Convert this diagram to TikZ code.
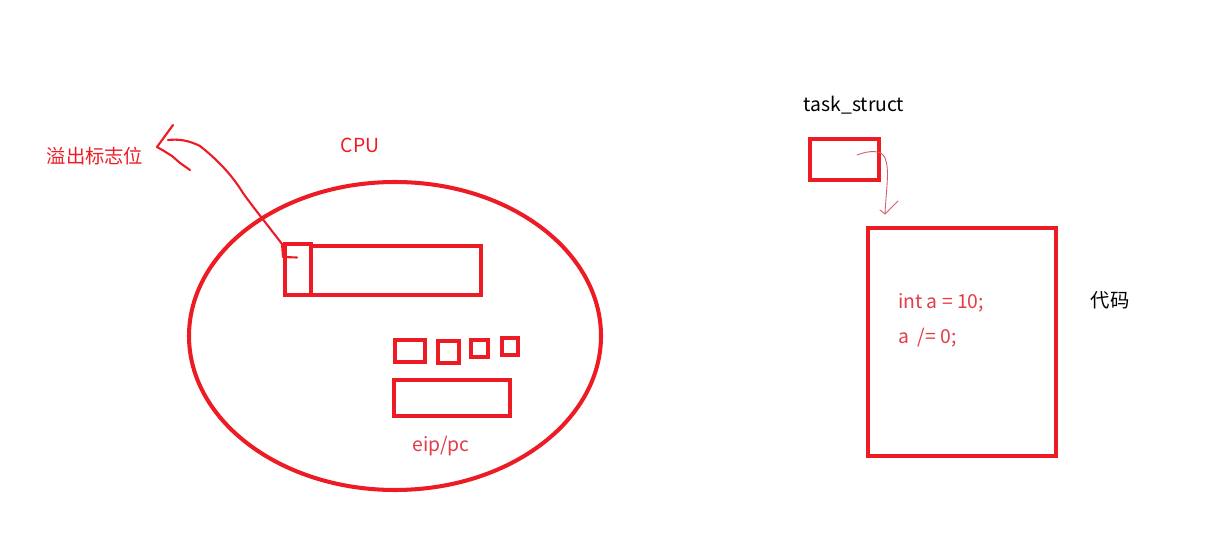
\documentclass[tikz,border=0pt]{standalone}
\usepackage{fontspec}
\setmainfont{Noto Sans CJK SC}
\usetikzlibrary{positioning, calc, shapes.geometric}
\definecolor{paintred}{RGB}{237, 28, 36}
\definecolor{codered}{RGB}{226, 60, 72}
\definecolor{penred}{RGB}{214, 90, 100}

\begin{document}
\begin{tikzpicture}[x=0.02cm, y=-0.02cm,
    box/.style={draw=paintred, line width=2.3pt, inner sep=0pt},
    lbl/.style={font=\fontsize{11}{13}\selectfont, inner sep=1pt},
    hand/.style={draw=paintred, line width=1.2pt, line cap=round, line join=round},
    thin/.style={draw=penred, line width=0.5pt, line cap=round}]
  \useasboundingbox (0,0) rectangle (1207,553);

  % cpu
  \node[draw=paintred, line width=2.3pt, ellipse, minimum width=412*0.02cm, minimum height=308*0.02cm] (cpu) at (395,336) {};
  \node[lbl, text=paintred] (cpulbl) at (360,145) {CPU};
  \node[box, minimum width=170*0.02cm, minimum height=49*0.02cm] (reg) at (396,270.5) {};
  \node[box, minimum width=26*0.02cm, minimum height=51*0.02cm] (flag) at (298,269.5) {};
  \node[box, minimum width=30*0.02cm, minimum height=22*0.02cm] (r1) at (410,351) {};
  \node[box, minimum width=21*0.02cm, minimum height=22*0.02cm] (r2) at (448.5,352) {};
  \node[box, minimum width=17*0.02cm, minimum height=17*0.02cm] (r3) at (479.5,348.5) {};
  \node[box, minimum width=16*0.02cm, minimum height=17*0.02cm] (r4) at (510,346.5) {};
  \node[box, minimum width=116*0.02cm, minimum height=36*0.02cm] (eip) at (452,398) {};
  \node[lbl, text=codered] (eiplbl) at (441,446) {eip/pc};

  % overflow flag
  \node[lbl, text=paintred] (ovf) at (95,156) {溢出标志位};
  \coordinate (ovftip) at (157,147);
  \draw[hand] ($(flag.center)+(-1,-12)$) -- (283,257) -- (282,244)
    .. controls (262,218) and (250,203) .. (243,193)
    .. controls (230,172) and (215,158) .. (200,146)
    .. controls (188,140) and (178,139) .. (168,140);
  \draw[hand] (173,125) -- (165,136) -- (ovftip) -- (164,151) -- (172,156) -- (180,163) -- (190,170);

  % task_struct
  \node[lbl] (tslbl) at (854,105) {task\_struct};
  \node[box, minimum width=69*0.02cm, minimum height=41*0.02cm] (ts) at (844.5,159.5) {};
  \node[box, minimum width=188*0.02cm, minimum height=228*0.02cm] (code) at (962,342) {};
  \coordinate (tstip) at (885,214);
  \draw[thin] (857,155) .. controls (870,150) and (882,150) .. (885,158)
    .. controls (890,170) and (886,190) .. (tstip);
  \draw[thin] (880,210) -- (tstip) -- (893,206) -- (898,201);

  % code
  \node[lbl, text=codered, anchor=west] (line1) at (896,303) {int a = 10;};
  \node[lbl, text=codered, anchor=west] (line2) at (896,338) {a~~/= 0;};
  \node[lbl] (codelbl) at (1110,300) {代码};
\end{tikzpicture}
\end{document}
